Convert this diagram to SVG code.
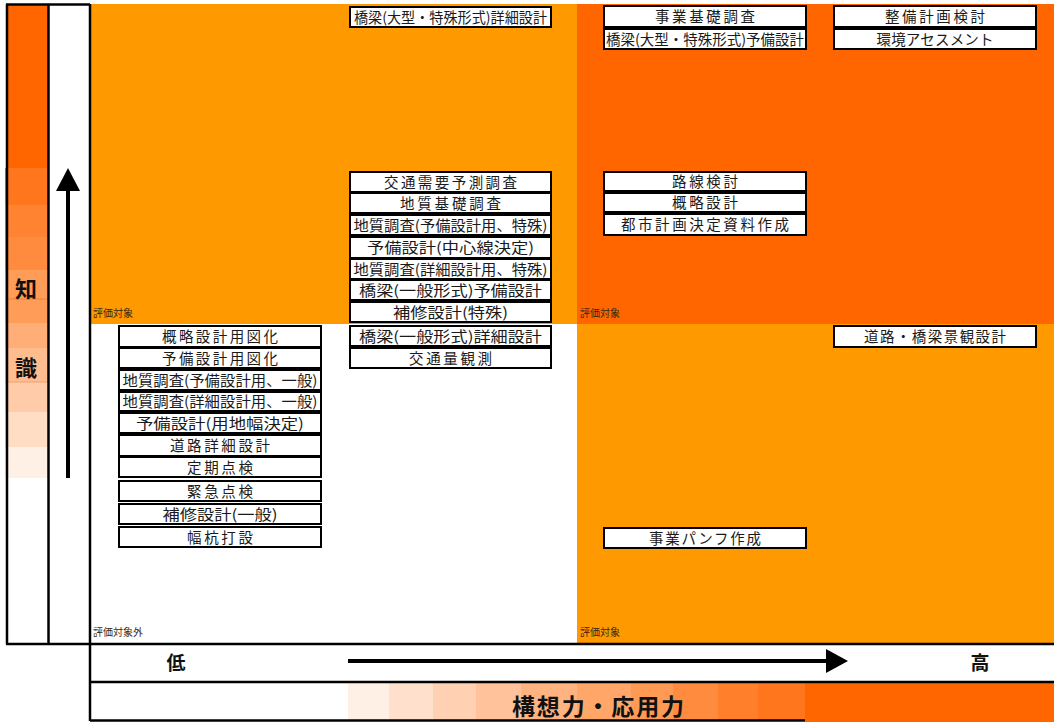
<svg xmlns="http://www.w3.org/2000/svg" width="1054" height="722" viewBox="0 0 1054 722">
<style>
.box rect{fill:#fff;stroke:#000;stroke-width:2}
.box text{font-family:"Noto Sans CJK JP","Noto Sans",sans-serif;font-size:14.5px;fill:#1a1a1a;text-anchor:middle}
.small{font-family:"Noto Sans CJK JP",sans-serif;font-size:10px;fill:#3a2a10}
.big{font-family:"Noto Sans CJK JP",sans-serif;font-weight:bold;fill:#111;text-anchor:middle}
.ln{stroke:#000;stroke-width:2.5;fill:none}
</style>
<rect width="1054" height="722" fill="#fff"/>
<g id="background">
<rect x="91" y="4" width="486" height="320" fill="#FF9900"/>
<rect x="577" y="4" width="477" height="320" fill="#FF6600"/>
<rect x="91" y="324" width="486" height="320" fill="#fff"/>
<rect x="577" y="324" width="477" height="320" fill="#FF9900"/>
</g>
<g id="knowledge-scale">
<rect x="6" y="4" width="42" height="164" fill="#FF6600"/>
<rect x="5" y="168" width="43" height="37" fill="#FF761C"/>
<rect x="5" y="205" width="43" height="32" fill="#FF8330"/>
<rect x="5" y="237" width="43" height="33" fill="#FF8C3E"/>
<rect x="5" y="270" width="43" height="53" fill="#FF9D58"/>
<rect x="5" y="323" width="43" height="25" fill="#FFAE78"/>
<rect x="5" y="348" width="43" height="34" fill="#FFBC8E"/>
<rect x="5" y="382" width="43" height="30" fill="#FFCBA8"/>
<rect x="5" y="412" width="43" height="35" fill="#FFDCC4"/>
<rect x="5" y="447" width="43" height="31" fill="#FFF0E5"/>
<line x1="5" y1="299" x2="48" y2="299" stroke="#F08030" stroke-width="1"/>
<line x1="5" y1="382" x2="48" y2="382" stroke="#F0A070" stroke-width="1"/>
<text class="big" x="26" y="297" font-size="22">知</text>
<text class="big" x="26" y="376" font-size="22">識</text>
</g>
<g id="creativity-scale">
<rect x="348" y="683" width="41" height="37" fill="#FFF0E5"/>
<rect x="389" y="683" width="44" height="37" fill="#FFE0CC"/>
<rect x="433" y="683" width="43" height="37" fill="#FFD0B2"/>
<rect x="476" y="683" width="45" height="37" fill="#FFC29A"/>
<rect x="521" y="683" width="56" height="37" fill="#FFB380"/>
<rect x="577" y="683" width="54" height="37" fill="#FFA668"/>
<rect x="631" y="683" width="42" height="37" fill="#FF9A55"/>
<rect x="673" y="683" width="45" height="37" fill="#FF8C3E"/>
<rect x="718" y="683" width="40" height="37" fill="#FF7F2A"/>
<rect x="758" y="683" width="47" height="37" fill="#FF761C"/>
<rect x="805" y="683" width="249" height="39" fill="#FF6600"/>
<text class="big" x="598" y="715" font-size="23" textLength="172">構想力・応用力</text>
</g>
<g id="frame">
<line class="ln" x1="6" y1="4.5" x2="90" y2="4.5"/>
<line class="ln" x1="7" y1="4" x2="7" y2="644"/>
<line class="ln" x1="48.5" y1="4" x2="48.5" y2="644"/>
<line class="ln" x1="90" y1="4" x2="90" y2="721"/>
<line class="ln" x1="6" y1="644" x2="1054" y2="644"/>
<line class="ln" x1="90" y1="682" x2="1054" y2="682"/>
<line class="ln" x1="90" y1="720.5" x2="805" y2="720.5"/>
</g>
<g id="labels">
<text class="small" x="93" y="317">評価対象</text>
<text class="small" x="580" y="317">評価対象</text>
<text class="small" x="93" y="636">評価対象外</text>
<text class="small" x="580" y="636">評価対象</text>
<text class="big" x="176" y="670" font-size="19">低</text>
<text class="big" x="980" y="670" font-size="19">高</text>
</g>
<g id="connectors">
<line x1="68" y1="188" x2="68" y2="478" stroke="#000" stroke-width="4"/>
<polygon points="68,168 80,191 56,191" fill="#000"/>
<line x1="348" y1="661" x2="828" y2="661" stroke="#000" stroke-width="4"/>
<polygon points="848,661 826,649 826,673" fill="#000"/>
</g>
<g id="n1" class="box"><rect x="350" y="7" width="201" height="20"/><text x="450.5" y="22.5" textLength="193" lengthAdjust="spacingAndGlyphs">橋梁(大型・特殊形式)詳細設計</text></g>
<g id="n2" class="box"><rect x="350" y="172" width="201" height="20"/><text x="450.5" y="187.5" textLength="133">交通需要予測調査</text></g>
<g id="n3" class="box"><rect x="350" y="193" width="201" height="20"/><text x="450.5" y="208.5" textLength="101">地質基礎調査</text></g>
<g id="n4" class="box"><rect x="350" y="215" width="201" height="20"/><text x="450.5" y="230.5" textLength="194" lengthAdjust="spacingAndGlyphs">地質調査(予備設計用、特殊)</text></g>
<g id="n5" class="box"><rect x="350" y="237" width="201" height="21"/><text x="450.5" y="253" textLength="167" lengthAdjust="spacingAndGlyphs">予備設計(中心線決定)</text></g>
<g id="n6" class="box"><rect x="350" y="259" width="201" height="20"/><text x="450.5" y="274.5" textLength="194" lengthAdjust="spacingAndGlyphs">地質調査(詳細設計用、特殊)</text></g>
<g id="n7" class="box"><rect x="350" y="280" width="201" height="20"/><text x="450.5" y="295.5" textLength="183" lengthAdjust="spacingAndGlyphs">橋梁(一般形式)予備設計</text></g>
<g id="n8" class="box"><rect x="350" y="302" width="201" height="20"/><text x="450.5" y="317.5" textLength="115" lengthAdjust="spacingAndGlyphs">補修設計(特殊)</text></g>
<g id="n9" class="box"><rect x="350" y="326" width="201" height="20"/><text x="450.5" y="341.5" textLength="183" lengthAdjust="spacingAndGlyphs">橋梁(一般形式)詳細設計</text></g>
<g id="n10" class="box"><rect x="350" y="348" width="201" height="20"/><text x="450.5" y="363.5" textLength="83">交通量観測</text></g>
<g id="n11" class="box"><rect x="119" y="326" width="202" height="21"/><text x="220" y="342" textLength="116">概略設計用図化</text></g>
<g id="n12" class="box"><rect x="119" y="348" width="202" height="20"/><text x="220" y="363.5" textLength="116">予備設計用図化</text></g>
<g id="n13" class="box"><rect x="119" y="370" width="202" height="20"/><text x="220" y="385.5" textLength="195" lengthAdjust="spacingAndGlyphs">地質調査(予備設計用、一般)</text></g>
<g id="n14" class="box"><rect x="119" y="392" width="202" height="19"/><text x="220" y="407" textLength="195" lengthAdjust="spacingAndGlyphs">地質調査(詳細設計用、一般)</text></g>
<g id="n15" class="box"><rect x="119" y="413" width="202" height="20"/><text x="220" y="428.5" textLength="168" lengthAdjust="spacingAndGlyphs">予備設計(用地幅決定)</text></g>
<g id="n16" class="box"><rect x="119" y="435" width="202" height="21"/><text x="220" y="451" textLength="100">道路詳細設計</text></g>
<g id="n17" class="box"><rect x="119" y="457" width="202" height="20"/><text x="220" y="472.5" textLength="66">定期点検</text></g>
<g id="n18" class="box"><rect x="119" y="481" width="202" height="20"/><text x="220" y="496.5" textLength="66">緊急点検</text></g>
<g id="n19" class="box"><rect x="119" y="504" width="202" height="20"/><text x="220" y="519.5" textLength="115" lengthAdjust="spacingAndGlyphs">補修設計(一般)</text></g>
<g id="n20" class="box"><rect x="119" y="527" width="202" height="20"/><text x="220" y="542.5" textLength="66">幅杭打設</text></g>
<g id="n21" class="box"><rect x="604" y="6" width="202" height="21"/><text x="705" y="22" textLength="100">事業基礎調査</text></g>
<g id="n22" class="box"><rect x="604" y="29" width="202" height="20"/><text x="705" y="44.5" textLength="198" lengthAdjust="spacingAndGlyphs">橋梁(大型・特殊形式)予備設計</text></g>
<g id="n23" class="box"><rect x="604" y="172" width="202" height="19"/><text x="705" y="187" textLength="66">路線検討</text></g>
<g id="n24" class="box"><rect x="604" y="193" width="202" height="19"/><text x="705" y="208" textLength="66">概略設計</text></g>
<g id="n25" class="box"><rect x="604" y="214" width="202" height="21"/><text x="705" y="230" textLength="168">都市計画決定資料作成</text></g>
<g id="n26" class="box"><rect x="604" y="528" width="202" height="20"/><text x="705" y="543.5" textLength="112">事業パンフ作成</text></g>
<g id="n27" class="box"><rect x="834" y="6" width="202" height="21"/><text x="935" y="22" textLength="100">整備計画検討</text></g>
<g id="n28" class="box"><rect x="834" y="29" width="202" height="20"/><text x="935" y="44.5" textLength="117">環境アセスメント</text></g>
<g id="n29" class="box"><rect x="834" y="326" width="202" height="21"/><text x="935" y="342" textLength="142">道路・橋梁景観設計</text></g>
</svg>
